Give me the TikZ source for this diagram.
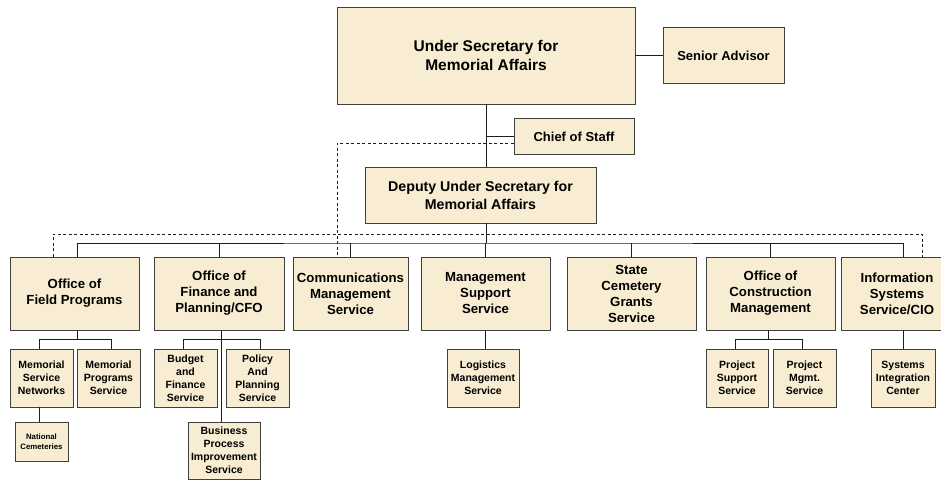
\documentclass[tikz,border=0pt]{standalone}
\usepackage{fontspec}
\setmainfont{Liberation Sans}
\usetikzlibrary{shadows}
\definecolor{paper}{HTML}{F8EDD2}
\definecolor{edge}{HTML}{404040}
\definecolor{wire}{HTML}{1E1E1E}
\tikzset{
  box/.style={draw=edge, line width=0.9pt, fill=paper, inner sep=0pt,
    align=center, font=\bfseries,
    drop shadow={shadow xshift=0.8pt, shadow yshift=-0.8pt, fill=black!80, opacity=1}},
  big/.style={box, font=\fontsize{15.5}{19}\selectfont\bfseries},
  mid/.style={box, font=\fontsize{13}{16}\selectfont\bfseries},
  dep/.style={box, font=\fontsize{14.2}{18}\selectfont\bfseries},
  unit/.style={box, font=\fontsize{13.2}{16}\selectfont\bfseries},
  sub/.style={box, font=\fontsize{10.5}{13}\selectfont\bfseries},
  tiny/.style={box, font=\fontsize{7.8}{10}\selectfont\bfseries},
  wirestyle/.style={draw=wire, line width=0.8pt},
  dashline/.style={draw=wire, line width=0.8pt, dashed, dash pattern=on 3pt off 2.5pt},
}
\begin{document}
\begin{tikzpicture}[x=1pt,y=-1pt]
\useasboundingbox (0,0) rectangle (941,479);
\clip (0,0) rectangle (941,479);

% top level
\node[big, minimum width=298pt, minimum height=97pt] (us) at (486,55.5)
  {Under Secretary for\\Memorial Affairs};
\node[mid, minimum width=121pt, minimum height=56pt] (sa) at (723.5,55.5)
  {Senior Advisor};
\node[mid, minimum width=120pt, minimum height=36pt] (cos) at (574,136.5)
  {Chief of Staff};
\node[dep, minimum width=231pt, minimum height=56pt] (dus) at (480.5,195)
  {Deputy Under Secretary for\\Memorial Affairs};

% first row of units
\begin{scope}[every node/.append style={unit, minimum height=73pt}]
\node[minimum width=129pt] (fp)  at (74.5,293.5) {Office of\\Field Programs};
\node[minimum width=130pt] (fin) at (219,293.5)  {Office of\\Finance and\\Planning/CFO};
\node[minimum width=115pt] (com) at (350.5,293.5) {Communications\\Management\\Service};
\node[minimum width=129pt] (mss) at (485.5,293.5) {Management\\Support\\Service};
\node[minimum width=129pt] (scg) at (631.5,293.5) {State\\Cemetery\\Grants\\Service};
\node[minimum width=129pt] (ocm) at (770.5,293.5) {Office of\\Construction\\Management};
\node[minimum width=112pt] (iss) at (897,293.5)   {Information\\Systems\\Service/CIO};
\end{scope}

% second row of services
\begin{scope}[every node/.append style={sub, minimum height=58pt}]
\node[minimum width=63pt] (msn) at (41.5,378)  {Memorial\\Service\\Networks};
\node[minimum width=63pt] (mps) at (108.5,378) {Memorial\\Programs\\Service};
\node[minimum width=63pt] (bfs) at (185.5,378) {Budget\\and\\Finance\\Service};
\node[minimum width=63pt] (pps) at (257.5,378) {Policy\\And\\Planning\\Service};
\node[minimum width=72pt] (lms) at (483,378)   {Logistics\\Management\\Service};
\node[minimum width=62pt] (pss) at (737,378)   {Project\\Support\\Service};
\node[minimum width=63pt] (pms) at (804.5,378) {Project\\Mgmt.\\Service};
\node[minimum width=64pt] (sic) at (903,378)   {Systems\\Integration\\Center};
\end{scope}

\node[sub, minimum width=72pt, minimum height=57pt] (bpi) at (224,450.5)
  {Business\\Process\\Improvement\\Service};
\node[tiny, minimum width=53pt, minimum height=39pt] (nc) at (41.5,441.5)
  {National\\Cemeteries};

% buses
\coordinate (bus)  at (486,243);
\coordinate (dbus) at (486,234);

% reporting lines at the top
\draw[wirestyle] (us.east) -- (us.east -| sa.west);
\draw[wirestyle] (us.south -| bus) -- (dus.north -| bus);
\draw[wirestyle] (cos.west) -- (cos.west -| bus);
\draw[dashline] ([yshift=-6.5pt]cos.west) -| ([xshift=-13.5pt]com.north);

% deputy to the units
\draw[wirestyle] (dus.south -| bus) -- (bus);
\draw[wirestyle] ([xshift=2.5pt]fp.north) |- (bus) -| ([xshift=6pt]iss.north);
\foreach \u in {fin,com,mss,scg,ocm}
  \draw[wirestyle] (\u.north) -- (\u.north |- bus);
\draw[dashline] ([xshift=-21.5pt]fp.north) |- (dbus) -| ([xshift=25pt]iss.north);

% units to their services
\draw[wirestyle] ([xshift=2.5pt]fp.south) -- ++(0,9);
\draw[wirestyle] ([xshift=-2.5pt]msn.north) |- ([yshift=-9pt]fp.south) -| ([xshift=2.5pt]mps.north);
\draw[wirestyle] ([xshift=-2.5pt]msn.south) -- ([xshift=-2.5pt]nc.north);

\draw[wirestyle] ([xshift=2pt]fin.south) -- ([xshift=2pt]fin.south |- bpi.north);
\draw[wirestyle] ([xshift=-2.5pt]bfs.north) |- ([yshift=-9pt]fin.south) -| ([xshift=2.5pt]pps.north);

\draw[wirestyle] (mss.south) -- (mss.south |- lms.north);

\draw[wirestyle] ([xshift=-2.5pt]ocm.south) -- ++(0,9);
\draw[wirestyle] ([xshift=-2pt]pss.north) |- ([yshift=-9pt]ocm.south) -| ([xshift=-2.5pt]pms.north);

\draw[wirestyle] ([xshift=6pt]iss.south) -- (sic.north);
\end{tikzpicture}
\end{document}
